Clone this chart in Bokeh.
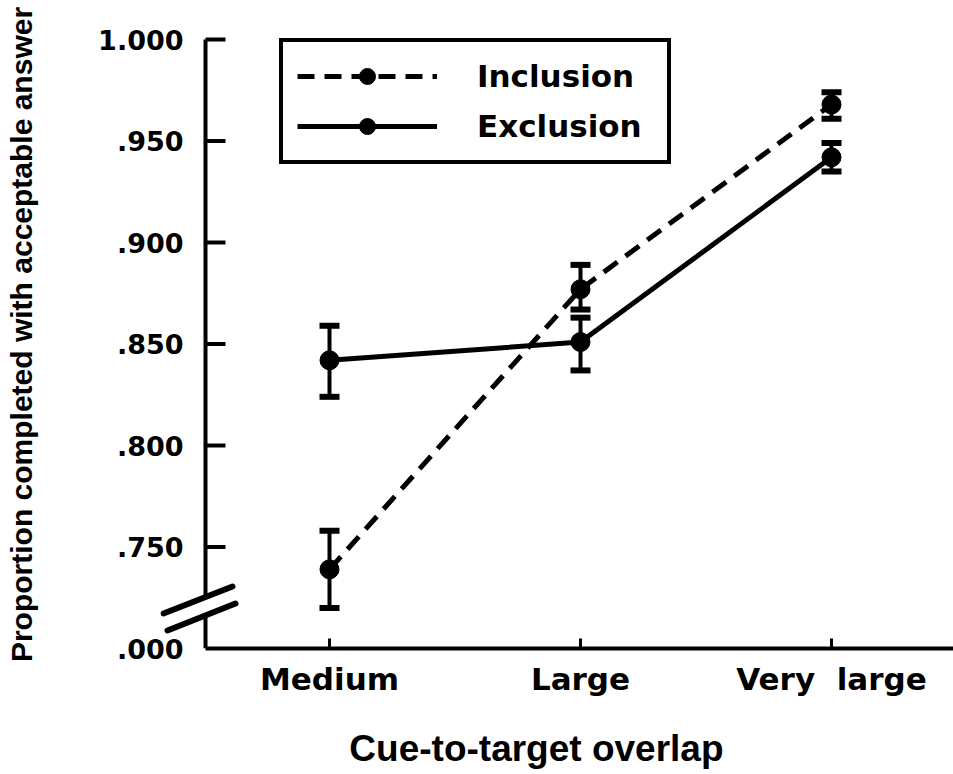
from bokeh.plotting import figure
from bokeh.models import (Range1d, FixedTicker, Whisker, TeeHead, ColumnDataSource,
                          Legend, LegendItem)
from bokeh.embed import file_html
from bokeh.resources import INLINE

# Overlap levels on the x axis
levels = [1, 2, 3]
level_labels = ["Medium", "Large", "Very\u00a0\u00a0large"]

# Inclusion condition: means and error-bar limits
incl_mean = [0.739, 0.877, 0.968]
incl_low = [0.720, 0.867, 0.961]
incl_high = [0.758, 0.889, 0.974]

# Exclusion condition: means and error-bar limits
excl_mean = [0.842, 0.851, 0.942]
excl_low = [0.824, 0.837, 0.935]
excl_high = [0.859, 0.863, 0.949]

# Y ticks; the lowest one sits below the axis break and reads as zero
y_ticks = [0.70, 0.75, 0.80, 0.85, 0.90, 0.95, 1.00]
y_tick_labels = [".000", ".750", ".800", ".850", ".900", ".950", "1.000"]

TICK_FONT = "DejaVu Sans"
TITLE_FONT = "Liberation Sans"

# Where the drawn y axis sits, in data units, and how far its ticks reach in
X_AXIS = 0.506
X_TICK_END = 0.5857
# the two ends of the axis break
BREAK_LOW = 0.7163
BREAK_HIGH = 0.7251

p = figure(width=953, height=774, output_backend="svg", toolbar_location=None,
           x_range=Range1d(0.3267, 3.486), y_range=Range1d(0.70, 1.0094),
           min_border_left=160, min_border_right=0, min_border_top=20,
           min_border_bottom=126)
p.outline_line_color = None
p.xgrid.visible = False
p.ygrid.visible = False
p.background_fill_color = "white"
p.border_fill_color = "white"

# x axis
xa = p.xaxis[0]
xa.bounds = (X_AXIS, 3.486)
xa.ticker = FixedTicker(ticks=levels)
xa.major_label_overrides = {lv: lab for lv, lab in zip(levels, level_labels)}
xa.major_tick_in = 10
xa.major_tick_out = 0
xa.major_tick_line_width = 3
xa.minor_tick_line_color = None
xa.axis_line_width = 4
xa.major_label_text_font = TICK_FONT
xa.major_label_text_font_style = "bold"
xa.major_label_text_font_size = "31px"
xa.major_label_text_color = "black"
xa.major_label_standoff = 12
# trailing no-break spaces nudge the centred title towards the axis line
xa.axis_label = "Cue-to-target overlap" + "\u00a0" * 4
xa.axis_label_text_font = TITLE_FONT
xa.axis_label_text_font_style = "bold"
xa.axis_label_text_font_size = "37px"
xa.axis_label_text_color = "black"
xa.axis_label_standoff = 28

# y axis: labels from the library axis, the broken axis line drawn below
ya = p.yaxis[0]
ya.ticker = FixedTicker(ticks=y_ticks)
ya.major_label_overrides = {t: lab for t, lab in zip(y_ticks, y_tick_labels)}
ya.axis_line_color = None
ya.major_tick_line_color = None
ya.minor_tick_line_color = None
ya.major_label_text_font = TICK_FONT
ya.major_label_text_font_style = "bold"
ya.major_label_text_font_size = "27px"
ya.major_label_text_color = "black"
ya.major_label_standoff = -29
ya.axis_label = "Proportion completed with acceptable answer"
ya.axis_label_text_font = TITLE_FONT
ya.axis_label_text_font_style = "bold"
ya.axis_label_text_font_size = "30px"
ya.axis_label_text_color = "black"
ya.axis_label_standoff = 57

# broken y axis line with inward ticks
p.segment(x0=[X_AXIS, X_AXIS], y0=[0.70, BREAK_HIGH], x1=[X_AXIS, X_AXIS], y1=[BREAK_LOW, 1.0],
          line_color="black", line_width=4)
p.segment(x0=[X_AXIS] * (len(y_ticks) - 1), x1=[X_TICK_END] * (len(y_ticks) - 1),
          y0=y_ticks[1:], y1=y_ticks[1:], line_color="black", line_width=4)
# break marks
p.segment(x0=[0.3386, 0.3546], y0=[0.71724, 0.70887], x1=[0.6135, 0.6255], y1=[0.73054, 0.72217],
          line_color="black", line_width=6, line_cap="round")

# series lines and points
incl_line = p.line(levels, incl_mean, line_color="black", line_width=5, line_dash="17 10")
incl_pts = p.scatter(levels, incl_mean, size=19, fill_color="black", line_color="black")
excl_line = p.line(levels, excl_mean, line_color="black", line_width=5)
excl_pts = p.scatter(levels, excl_mean, size=19, fill_color="black", line_color="black")

# error bars
for low, high in ((incl_low, incl_high), (excl_low, excl_high)):
    src = ColumnDataSource(data=dict(base=levels, lower=low, upper=high))
    p.add_layout(Whisker(source=src, base="base", lower="lower", upper="upper",
                         line_width=4, line_color="black",
                         upper_head=TeeHead(size=20, line_width=6, line_color="black"),
                         lower_head=TeeHead(size=20, line_width=6, line_color="black")))

legend = Legend(items=[LegendItem(label="Inclusion", renderers=[incl_line, incl_pts]),
                       LegendItem(label="Exclusion", renderers=[excl_line, excl_pts])],
                location=(119, 484), orientation="vertical",
                glyph_width=140, glyph_height=40, label_height=40, label_width=176,
                spacing=10, padding=14, margin=0, label_standoff=40,
                label_text_font=TICK_FONT, label_text_font_style="bold",
                label_text_font_size="31px", label_text_color="black",
                border_line_color="black", border_line_width=4, border_line_alpha=1.0,
                background_fill_color="white", background_fill_alpha=1.0)
p.add_layout(legend, "center")

open("out.html", "w").write(file_html(p, INLINE))
